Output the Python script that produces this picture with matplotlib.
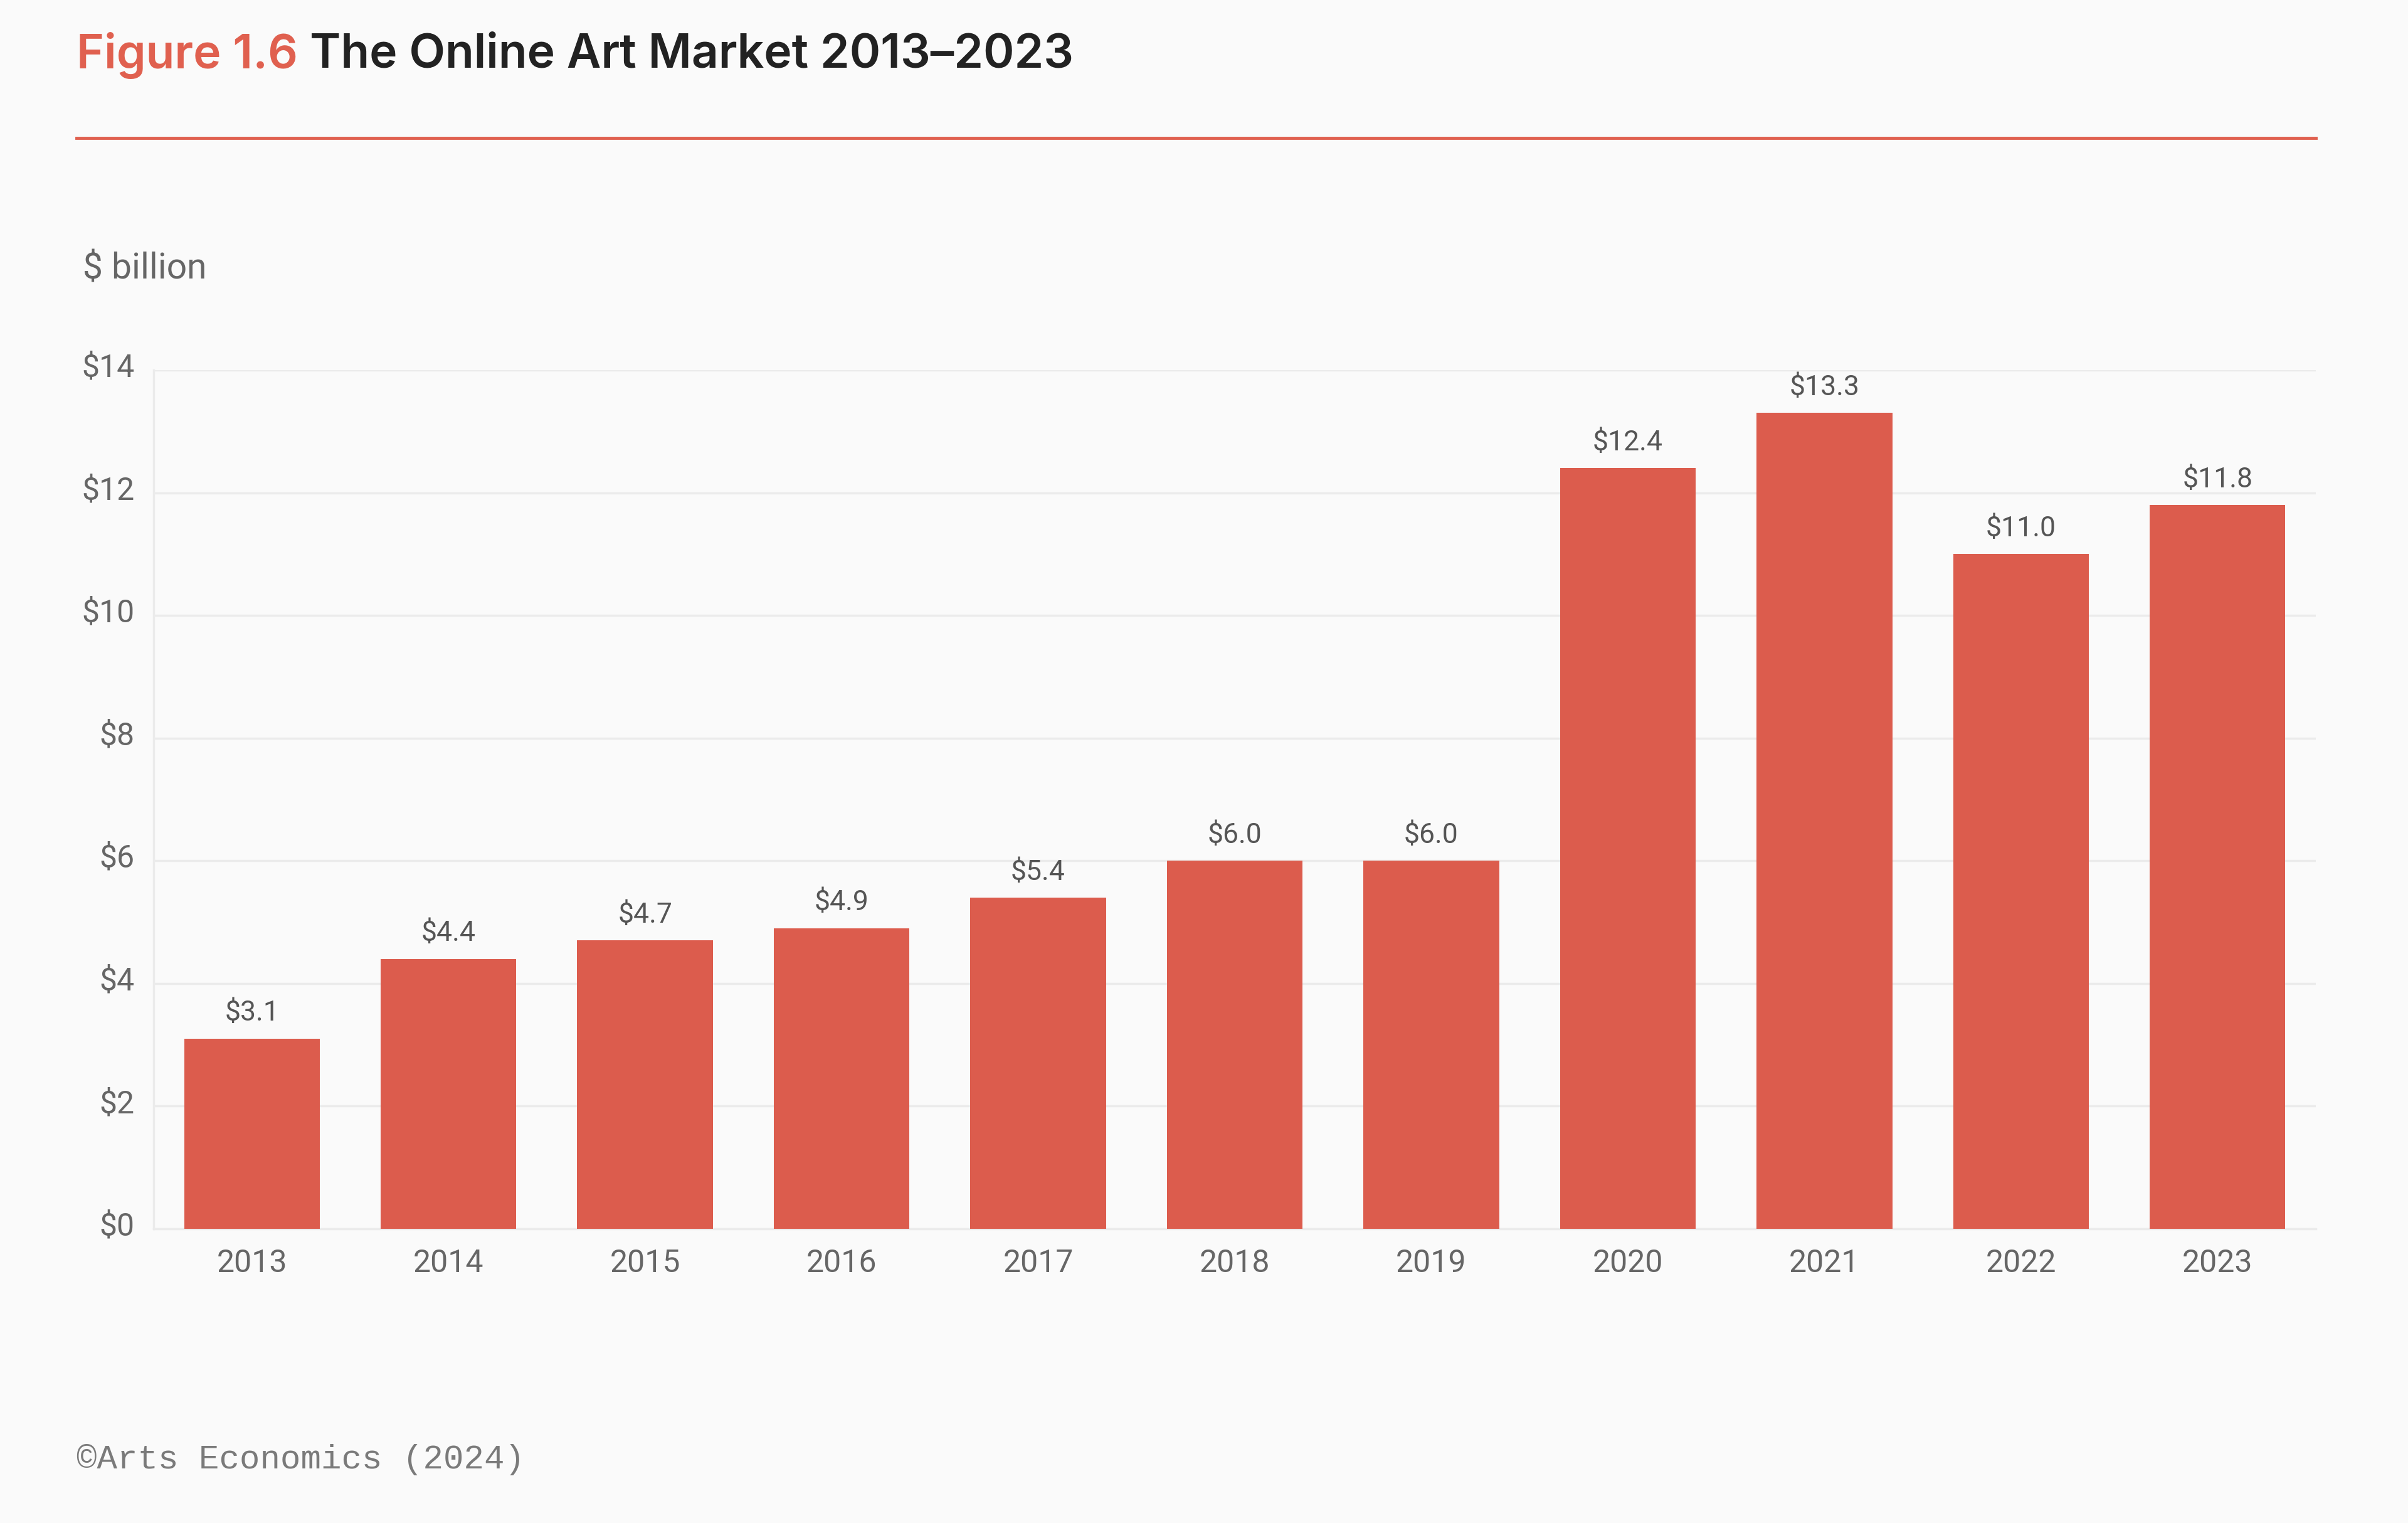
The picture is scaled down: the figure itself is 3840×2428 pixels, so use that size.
import matplotlib
matplotlib.use("Agg")
import matplotlib.pyplot as plt
import matplotlib.transforms as mtransforms
import numpy as np

years = ["2013", "2014", "2015", "2016", "2017", "2018", "2019", "2020", "2021", "2022", "2023"]
values = [3.1, 4.4, 4.7, 4.9, 5.4, 6.0, 6.0, 12.4, 13.3, 11.0, 11.8]
yticks = [0, 2, 4, 6, 8, 10, 12, 14]

BG = "#FAFAFA"
BAR = "#DC5C4D"
RED = "#E0604F"
GRAY = "#666666"

W, H = 3840, 2428
fig = plt.figure(figsize=(W / 100, H / 100), dpi=100, facecolor=BG)

def fx(px):
    return px / W

def fy(py):
    return 1 - py / H

ax = fig.add_axes([fx(245), fy(1959), fx(3693) - fx(245), fy(590) - fy(1959)])
ax.set_facecolor(BG)
x = np.arange(len(years))
ax.bar(x, values, width=0.69, color=BAR, edgecolor="none", zorder=3)
ax.set_xlim(-0.5, len(years) - 0.5)
ax.set_ylim(0, 14)
ax.set_yticks(yticks)
ax.set_yticklabels([f"${v}" for v in yticks])
ax.set_xticks(x)
ax.set_xticklabels(years)
ax.grid(axis="y", color="#EBEBEB", linewidth=2.5, zorder=0)
for s in ["top", "right"]:
    ax.spines[s].set_visible(False)
for s in ["left", "bottom"]:
    ax.spines[s].set_color("#EBEBEB")
    ax.spines[s].set_linewidth(2.5)
ax.tick_params(axis="both", length=0, labelsize=36, labelcolor=GRAY)
ax.tick_params(axis="y", pad=22)
ax.tick_params(axis="x", pad=22)
shift = mtransforms.ScaledTranslation(0, 6 / 72, fig.dpi_scale_trans)
for lbl in ax.get_xticklabels() + ax.get_yticklabels():
    lbl.set_family("Roboto")
for lbl in ax.get_yticklabels():
    lbl.set_transform(lbl.get_transform() + shift)

for xi, v in zip(x, values):
    ax.annotate(f"${v:.1f}", (xi, v), xytext=(0, 14), textcoords="offset points",
                ha="center", va="bottom", fontsize=32, color="#555555", family="Roboto")

t1 = fig.text(fx(122), fy(88), "Figure 1.6 ", fontsize=54, color=RED, family="Inter",
              fontweight="semibold", va="center", ha="left")
fig.canvas.draw()
bb = t1.get_window_extent()
fig.text(bb.x1 / W, fy(88), "The Online Art Market 2013\u20132023", fontsize=54, color="#222222",
         family="Inter", fontweight="semibold", va="center", ha="left")

fig.add_artist(plt.Line2D([fx(122), fx(3693)], [fy(220), fy(220)], color=RED, linewidth=3.5))

fig.text(fx(132), fy(429), "$ billion", fontsize=41, color=GRAY, family="Roboto", va="center", ha="left")
fig.text(fx(122), fy(2327), "\u00a9Arts Economics (2024)", fontsize=39, color="#7A7A7A",
         family="Liberation Mono", va="center", ha="left")

fig.savefig("out.png", dpi=100, facecolor=BG)
